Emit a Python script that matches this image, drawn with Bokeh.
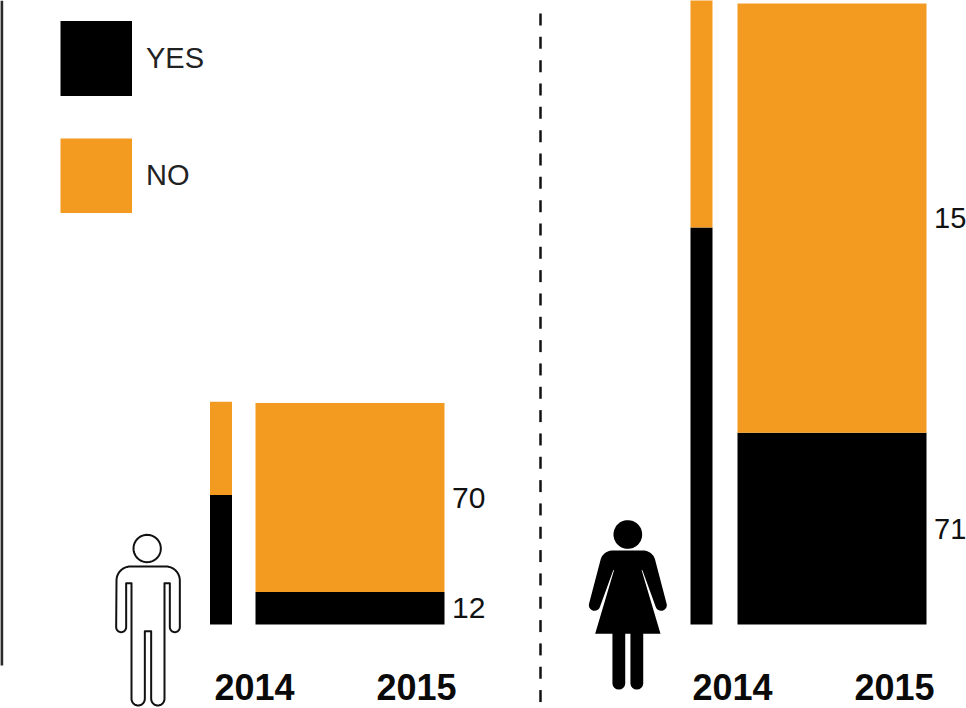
import numpy as np
from bokeh.plotting import figure
from bokeh.embed import file_html
from bokeh.resources import INLINE
from bokeh.core.properties import value

# ---- data ----
years = ["2014", "2015"]
men_yes = [48, 12]
men_no = [34.5, 70]
women_yes = [147, 71]
women_no = [90, 159]           # 2014 runs off the top of the picture
men_labels = ["12", "70"]
women_labels = ["71", "15"]    # second label is cut off by the picture's edge
legend_labels = ["YES", "NO"]

ORANGE = "#F39A20"
BLACK = "#000000"

# ---- layout ----
W, H = 966, 708
PX_PER_UNIT = 2.7
BASE_PX = 624.0


def Y(py):
    return (BASE_PX - np.asarray(py, dtype=float)) / PX_PER_UNIT


p = figure(width=W, height=H, x_range=(0, W), y_range=(float(Y(H)), float(Y(0))),
           toolbar_location=None, output_backend="svg", min_border=0,
           x_axis_type=None, y_axis_type=None, outline_line_color=None)
p.grid.visible = False
p.background_fill_color = "#ffffff"

# separators
p.line([1.2, 1.2], [float(Y(0)), float(Y(665))], line_color="#2a2a2a", line_width=3)
dash_tops = np.arange(13.0, 700.0, 23.33)
p.segment(x0=540.0, x1=540.0, y0=Y(dash_tops), y1=Y(dash_tops + 12), line_color="#111111",
          line_width=2.5)

# bars
groups = [
    (209.5, 255.0, men_yes, men_no),
    (690.0, 737.0, women_yes, women_no),
]
for x14, x15, yes, no in groups:
    lefts = [x14, x15]
    widths = [22.0, 189.0]
    rights = [l + w for l, w in zip(lefts, widths)]
    p.quad(left=lefts, right=rights, bottom=[0, 0], top=yes, fill_color=BLACK, line_color=None)
    p.quad(left=lefts, right=rights, bottom=yes,
           top=[a + b for a, b in zip(yes, no)], fill_color=ORANGE, line_color=None)

# value labels, centred on their 2015 segments
label_font = value("Liberation Sans")
for x, size, yes, no, labels in [(451.5, "30px", men_yes, men_no, men_labels),
                                 (933.5, "29px", women_yes, women_no, women_labels)]:
    ys = [yes[1] / 2, yes[1] + no[1] / 2]
    p.text(x=[x, x], y=ys, text=labels, text_font=label_font, text_font_size=size,
           text_color="#111111", text_align="left", text_baseline="middle")

# year labels
for cx, yr in zip([254, 416, 732, 894], years * 2):
    p.text(x=[cx], y=[float(Y(686.5))], text=[yr], text_font=label_font, text_font_size="36px",
           text_font_style="bold", text_color="#0a0a0a", text_align="center",
           text_baseline="middle")

# legend
p.quad(left=[60, 60], right=[131.5, 131.5], top=Y([20.5, 138]).tolist(),
       bottom=Y([95.5, 212.5]).tolist(), fill_color=[BLACK, ORANGE], line_color=None)
p.text(x=[145.5, 145.5], y=Y([57.5, 174.5]).tolist(), text=legend_labels, text_font=label_font,
       text_font_size="29px", text_color="#222222", text_align="left",
       text_baseline="middle")


# ---- icons (drawn in the crops' coordinates) ----
def arc(cx, cy, r, a0, a1, n=14):
    t = np.radians(np.linspace(a0, a1, n))
    return list(zip(cx + r * np.cos(t), cy + r * np.sin(t)))


def man_xy(pts):
    a = np.array(pts)
    return (90 + a[:, 0] / 3).tolist(), Y(510 + a[:, 1] / 3).tolist()


def woman_xy(pts):
    a = np.array(pts)
    return (570 + a[:, 0] / 3).tolist(), Y(510 + a[:, 1] / 3).tolist()


# man: outline
outline = arc(120, 210, 42, 180, 270)
outline += arc(226, 210, 42, 270, 360)
outline += arc(253, 350, 15, 0, 180)
outline += [(238, 218), (222, 218)]
outline += arc(202, 565, 20, 0, 180)
outline += [(182, 362), (163, 362)]
outline += arc(143, 565, 20, 0, 180)
outline += [(123, 218), (107, 218)]
outline += arc(92, 350, 15, 0, 180)
outline += [(78, 210)]
mx, my = man_xy(outline)
p.patch(mx, my, fill_color="#ffffff", line_color="#111111", line_width=2, line_join="round")
hx, hy = man_xy(arc(170, 114, 41, 0, 360, 60))
p.patch(hx, hy, fill_color="#ffffff", line_color="#111111", line_width=2)

# woman: filled
hx, hy = woman_xy(arc(172, 72, 43, 0, 360, 60))
p.patch(hx, hy, fill_color=BLACK, line_color=None)
right = [(172, 120), (218, 120)] + arc(218, 157, 37, 270, 342) + \
        arc(272, 284, 17, -18, 162) + [(216, 180), (213, 178), (270, 370), (172, 370)]
left = [(344 - x, y) for x, y in reversed(right)]
tx, ty = woman_xy(right + left)
p.patch(tx, ty, fill_color=BLACK, line_color=None)
for a, b, w in [((145, 360), (145, 518), 12.8),
                ((199, 360), (199, 518), 12.8)]:
    lx, ly = woman_xy([a, b])
    p.line(lx, ly, line_color=BLACK, line_width=w, line_cap="round")

open("out.html", "w").write(file_html(p, INLINE))
